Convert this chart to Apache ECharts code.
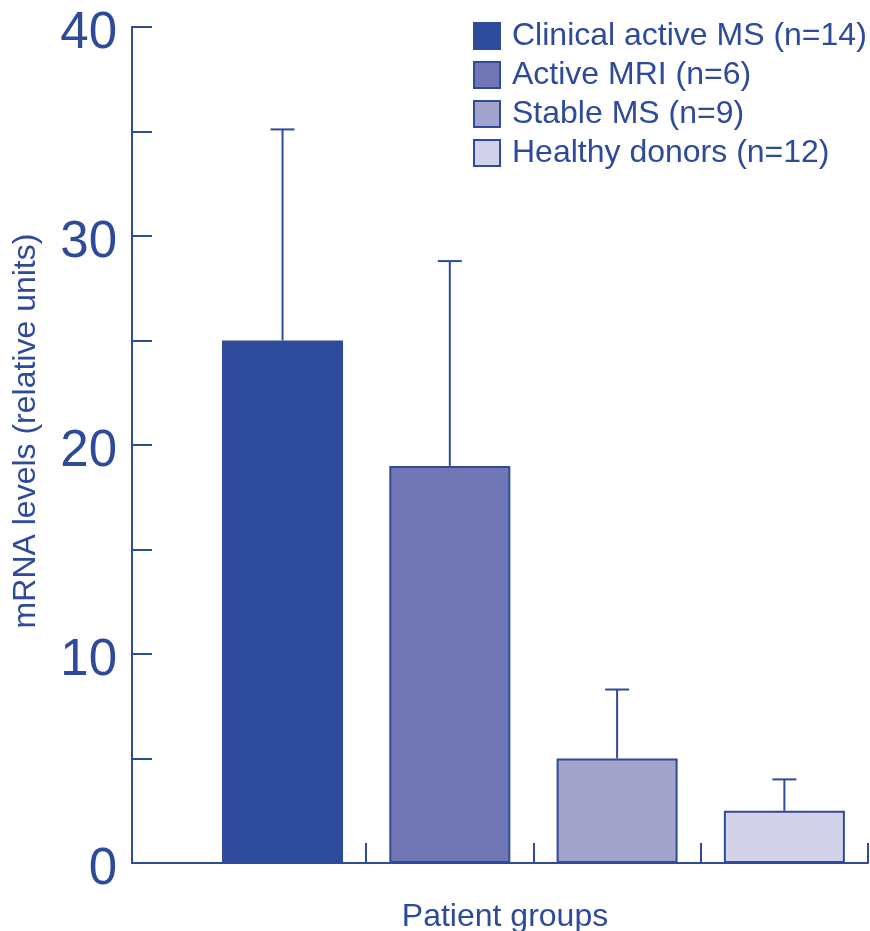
<!DOCTYPE html>
<html lang="en">
<head>
    <meta charset="UTF-8">
    <title>mRNA levels</title>
    <script src="https://cdn.jsdelivr.net/npm/echarts@6/dist/echarts.min.js"></script>
    <style>
        *{ padding:0; margin:0; box-sizing:border-box; }
        body{ background:#fff; }
        #chart{ width:870px; height:931px; }
    </style>
</head>
<body>
    <div id="chart"></div>
    <script>
        // data
        var groups=["Clinical active MS (n=14)","Active MRI (n=6)","Stable MS (n=9)","Healthy donors (n=12)"]
        var means=[25,19,5,2.5]
        var upper=[35.1,28.8,8.3,4.0]
        var yLabels=[0,10,20,30,40]
        var groupBounds=[0.5,1.5,2.5,3.5]

        var ink="#2e4a9a"
        var fills=["#2e4a9a","#7077b4","#a3a3cc","#d4d2e8"]
        var font="Liberation Sans, Arial, sans-serif"

        var myCharts=echarts.init(document.getElementById("chart"))

        var barSeries=groups.map(function(name,i){
            return {
                name:name,
                type:"bar",
                data:[[i,means[i]]],
                barWidth:121,
                barGap:"-100%",
                itemStyle:{ color:fills[i], borderColor:ink, borderWidth:2 },
                z:2
            }
        })

        // error bars (mean -> upper) with a small cap
        var errSeries={
            type:"custom",
            data:means.map(function(m,i){ return [i,m,upper[i]] }),
            renderItem:function(params,api){
                var base=api.coord([api.value(0),api.value(1)])
                var top=api.coord([api.value(0),api.value(2)])
                var st={ stroke:ink, lineWidth:2 }
                return {
                    type:"group",
                    children:[
                        { type:"line", shape:{x1:base[0],y1:base[1],x2:top[0],y2:top[1]}, style:st },
                        { type:"line", shape:{x1:top[0]-12,y1:top[1],x2:top[0]+12,y2:top[1]}, style:st }
                    ]
                }
            },
            z:3
        }

        var option={
            animation:false,
            textStyle:{ fontFamily:font },
            grid:{ left:132, right:2, top:27, bottom:68, outerBoundsMode:"none", containLabel:false },
            legend:{
                data:groups,
                orient:"vertical",
                left:473,
                top:20,
                padding:0,
                itemWidth:26,
                itemHeight:26,
                itemGap:7,
                icon:"rect",
                textStyle:{ color:ink, fontSize:32, fontFamily:font, padding:[0,0,0,7] }
            },
            xAxis:{
                type:"value",
                min:-0.9,
                max:3.5,
                name:"Patient groups",
                nameLocation:"middle",
                nameGap:38,
                nameTextStyle:{ color:ink, fontSize:32, fontFamily:font, padding:[0,0,0,10] },
                axisLine:{ onZero:false, lineStyle:{ color:ink, width:2 } },
                axisTick:{ show:true, inside:true, length:20, customValues:groupBounds, lineStyle:{ color:ink, width:2 } },
                axisLabel:{ show:false },
                splitLine:{ show:false }
            },
            yAxis:{
                type:"value",
                min:0,
                max:40,
                interval:5,
                name:"mRNA levels (relative units)",
                nameLocation:"middle",
                nameGap:90,
                nameTextStyle:{ color:ink, fontSize:32, fontFamily:font, padding:[0,0,0,28] },
                axisLine:{ show:true, onZero:false, lineStyle:{ color:ink, width:2 } },
                axisTick:{ show:true, inside:true, length:20, lineStyle:{ color:ink, width:2 } },
                axisLabel:{
                    color:ink, fontSize:51, fontFamily:font, margin:15,
                    formatter:function(v){ return yLabels.indexOf(v)>=0 ? "{v|"+v+"}" : "" },
                    rich:{ v:{ color:ink, fontSize:51, fontFamily:font, padding:[13,0,0,0] } }
                },
                splitLine:{ show:false }
            },
            series:barSeries.concat([errSeries])
        }

        myCharts.setOption(option)
    </script>
</body>
</html>
